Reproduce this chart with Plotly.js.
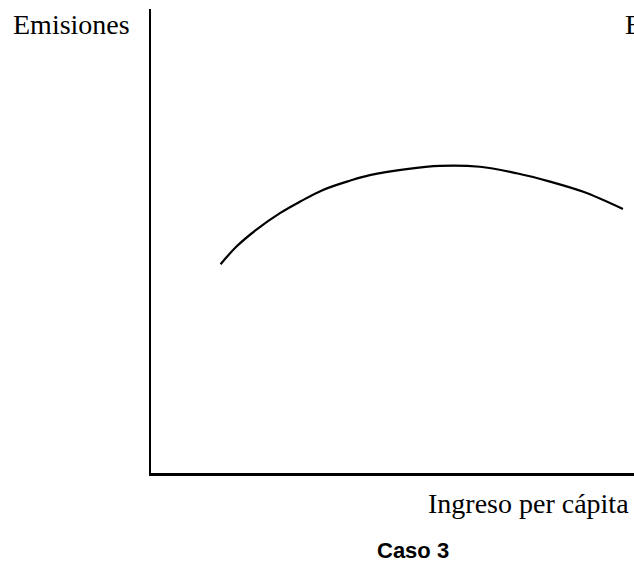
<!DOCTYPE html>
<html>
<head>
<meta charset="utf-8">
<script src="https://cdn.plot.ly/plotly-3.0.1.min.js"></script>
<style>
  html, body { margin: 0; padding: 0; background: #fff; }
  #plot1 { width: 634px; height: 586px; }
</style>
</head>
<body>
<div id="plot1"></div>
<script>
// curve (axis units 0..100)
var ingreso = [14.4, 17.7, 21.9, 26.7, 30.9, 35.6, 41.2, 45.3, 52.9, 59.8, 68.1, 75.7, 82.6, 89.5, 97.7];
var emisiones = [45.0, 48.8, 52.5, 56.0, 58.5, 61.0, 63.0, 64.2, 65.5, 66.2, 66.0, 64.6, 62.8, 60.6, 56.9];

var serif = 'Liberation Serif, Times New Roman, serif';

function draw() {
  try {
    var curve = {
      x: ingreso,
      y: emisiones,
      mode: 'lines',
      type: 'scatter',
      line: {color: '#000', width: 2.2, shape: 'spline'},
      hoverinfo: 'skip'
    };

    var layout = {
      width: 634,
      height: 586,
      margin: {l: 151, r: 0, t: 9, b: 113},
      paper_bgcolor: '#fff',
      plot_bgcolor: '#fff',
      showlegend: false,
      xaxis: {
        range: [0, 100],
        showline: true, linecolor: '#000', linewidth: 3,
        showgrid: false, zeroline: false, showticklabels: false, ticks: ''
      },
      yaxis: {
        range: [0, 100],
        showline: true, linecolor: '#000', linewidth: 2,
        showgrid: false, zeroline: false, showticklabels: false, ticks: ''
      },
      annotations: [
        {text: 'Emisiones', xref: 'paper', yref: 'paper', x: -0.29, y: 0.967,
          xanchor: 'left', yanchor: 'middle', showarrow: false,
          font: {family: serif, size: 28, color: '#000'}},
        // next panel's label, cut by the right edge as in the source
        {text: 'Emisiones', xref: 'paper', yref: 'paper', x: 0.977, y: 0.967,
          xanchor: 'left', yanchor: 'middle', showarrow: false,
          font: {family: serif, size: 28, color: '#000'}},
        {text: 'Ingreso per cápita', xref: 'paper', yref: 'paper', x: 0.569, y: -0.066,
          xanchor: 'left', yanchor: 'middle', showarrow: false,
          font: {family: serif, size: 28, color: '#000'}},
        {text: '<b>Caso 3</b>', xref: 'paper', yref: 'paper', x: 0.5424, y: -0.166,
          xanchor: 'center', yanchor: 'middle', showarrow: false,
          font: {family: 'Liberation Sans, Arial, sans-serif', size: 22, color: '#000'}}
      ]
    };

    Plotly.newPlot('plot1', [curve], layout, {displayModeBar: false, staticPlot: true});
  }
  catch (err) {
    console.error(err);
  }
}
draw();
</script>
</body>
</html>
